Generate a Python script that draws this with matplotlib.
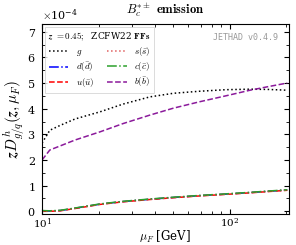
import numpy as np
from matplotlib import pyplot as plt
from matplotlib.ticker import MultipleLocator

plt.rcParams['mathtext.fontset'] = 'cm'
plt.rcParams['font.family'] = 'serif'
plt.rcParams['font.serif'] = ['DejaVu Serif']
plt.rcParams['axes.formatter.use_mathtext'] = True

# values (units of 1e-4)
mu = [10, 11, 12.5, 15, 20.4, 27, 37.5, 50, 69, 95, 128, 160, 202]
g_vals = [2.66, 3.16, 3.35, 3.6, 3.88, 4.18, 4.46, 4.6, 4.68, 4.74, 4.76, 4.75, 4.72]
b_vals = [2.0, 2.39, 2.55, 2.78, 3.1, 3.42, 3.75, 4.02, 4.27, 4.5, 4.72, 4.86, 5.0]
light_vals = [0.02, 0.01, 0.03, 0.12, 0.28, 0.38, 0.47, 0.54, 0.61, 0.67, 0.73, 0.78, 0.83]
u_vals = [v - 0.01 for v in light_vals]
c_vals = [v + 0.01 for v in light_vals]

mu = np.array(mu)
scale = 1e-4

fig, ax = plt.subplots(figsize=(2.96, 2.45), dpi=100)
fig.subplots_adjust(left=0.142, right=0.976, top=0.902, bottom=0.127)

ax.plot(mu, np.array(g_vals) * scale, color='black', ls=':', lw=1.1, label=r'$g$')
ax.plot(mu, np.array(light_vals) * scale, color='blue', ls='-.', lw=1.1, label=r'$d(\bar{d})$')
ax.plot(mu, np.array(u_vals) * scale, color='red', ls='--', lw=1.1, label=r'$u(\bar{u})$')
ax.plot(mu, np.array(light_vals) * scale, color='#e06060', ls=':', lw=1.1, label=r'$s(\bar{s})$')
ax.plot(mu, np.array(c_vals) * scale, color='#2ca02c', ls='-.', lw=1.1, label=r'$c(\bar{c})$')
ax.plot(mu, np.array(b_vals) * scale, color='#8b1a9b', ls='--', lw=1.1, label=r'$b(\bar{b})$')

ax.set_xscale('log')
ax.set_xlim(10, 206)
ax.set_ylim(-0.1e-4, 7.3e-4)
ax.yaxis.set_major_locator(MultipleLocator(1e-4))
ax.yaxis.set_minor_locator(MultipleLocator(0.5e-4))
ax.ticklabel_format(axis='y', style='sci', scilimits=(0, 0), useMathText=True)
ax.yaxis.get_offset_text().set_fontsize(8)
ax.tick_params(which='both', direction='in', top=True, right=True, labelsize=8, pad=4.5)
ax.tick_params(axis='x', which='both', labelsize=7.5, pad=1.5)
ax.tick_params(which='major', length=3.5)
ax.tick_params(which='minor', length=2)

ax.set_title(r'$B_c^{*\pm}$ $\mathbf{emission}$', fontsize=9, pad=7)
ax.set_xlabel(r'$\boldsymbol{\mu_F}$ [GeV]', fontsize=8.5, labelpad=-1)
ax.set_ylabel(r'$\boldsymbol{z D^h_{g/q}(z, \mu_F)}$', fontsize=11, labelpad=0)

ax.text(0.955, 0.955, 'JETHAD v0.4.9', transform=ax.transAxes, ha='right', va='top',
        fontsize=6, family='DejaVu Sans Mono', color='#999999')

leg = ax.legend(loc='upper left', ncol=2, fontsize=6.5, frameon=True, fancybox=False,
                title=r'$\boldsymbol{z}$ $\mathbf{= 0.45;}$  ZCFW22 $\mathbf{FFs}$', title_fontsize=6.5,
                handlelength=2.2, columnspacing=1.4, borderaxespad=0.3, labelspacing=0.25)
leg.get_frame().set_edgecolor('#cccccc')
leg.get_frame().set_linewidth(0.6)

fig.savefig('out.png', dpi=100)
